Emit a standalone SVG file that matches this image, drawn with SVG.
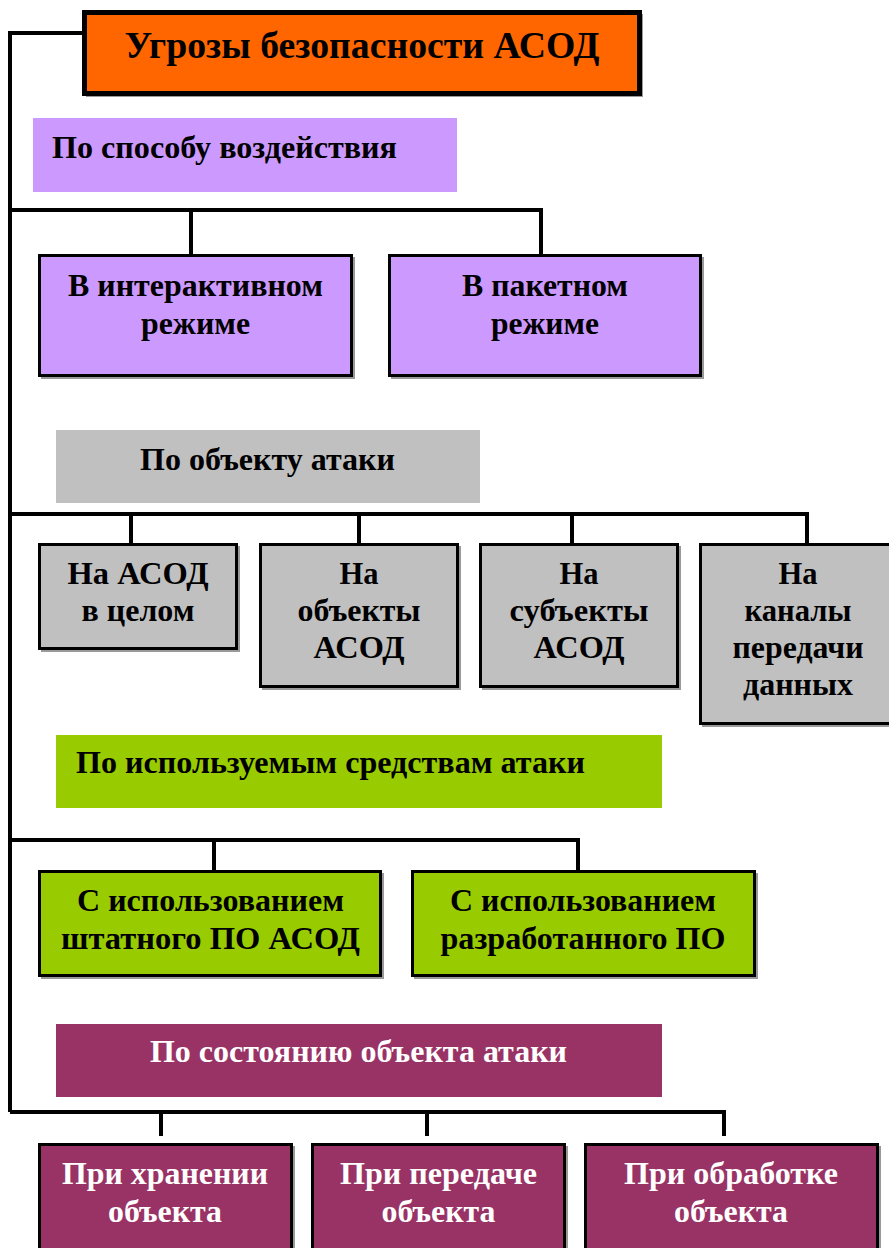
<svg xmlns="http://www.w3.org/2000/svg" width="889" height="1248" viewBox="0 0 889 1248">
<style>
text{font-family:"Liberation Serif","Times New Roman",serif;font-weight:bold;font-size:31px;fill:#000}
.t{font-size:37px}
.w{fill:#fff}
.box{stroke:#000;stroke-width:3}
.shadow{fill:#999}
.conn{stroke:#000;stroke-width:4;fill:none}
.pu{fill:#CC99FF}.gr{fill:#C0C0C0}.gn{fill:#99CC00}.mr{fill:#993366}
</style>
<rect width="889" height="1248" fill="#fff"/>
<g id="connectors">
<path class="conn" d="M84 33H10V1112"/>
<path class="conn" d="M10 210H541V254M191 210V254"/>
<path class="conn" d="M10 514H807V543M131 514V543M359 514V543M572 514V543"/>
<path class="conn" d="M10 840H578V870M214 840V870"/>
<path class="conn" d="M10 1112H724V1136M161 1112V1136M427 1112V1136"/>
</g>
<g id="title">
<rect x="86" y="14" width="557" height="83" class="shadow"/>
<rect x="84.5" y="12.5" width="555" height="81" fill="#FF6600" stroke="#000" stroke-width="5"/>
<text class="t" x="362" y="58" text-anchor="middle" textLength="475" lengthAdjust="spacingAndGlyphs">Угрозы безопасности АСОД</text>
</g>
<g id="cat1">
<rect x="33" y="118" width="424" height="74" class="pu"/>
<text x="52" y="158" textLength="345" lengthAdjust="spacingAndGlyphs">По способу воздействия</text>
</g>
<g id="n1a">
<rect x="41" y="257" width="314" height="122" class="shadow"/>
<rect x="39.5" y="255.5" width="312" height="120" class="pu box"/>
<text x="195.5" y="296" text-anchor="middle" textLength="255" lengthAdjust="spacingAndGlyphs">В интерактивном</text>
<text x="195.5" y="334" text-anchor="middle" textLength="109" lengthAdjust="spacingAndGlyphs">режиме</text>
</g>
<g id="n1b">
<rect x="391" y="257" width="313" height="122" class="shadow"/>
<rect x="389.5" y="255.5" width="311" height="120" class="pu box"/>
<text x="545" y="296" text-anchor="middle" textLength="166" lengthAdjust="spacingAndGlyphs">В пакетном</text>
<text x="545" y="334" text-anchor="middle" textLength="108" lengthAdjust="spacingAndGlyphs">режиме</text>
</g>
<g id="cat2">
<rect x="56" y="430" width="424" height="73" class="gr"/>
<text x="267.5" y="470" text-anchor="middle" textLength="255" lengthAdjust="spacingAndGlyphs">По объекту атаки</text>
</g>
<g id="n2a">
<rect x="41" y="546" width="199" height="106" class="shadow"/>
<rect x="39.5" y="544.5" width="197" height="104" class="gr box"/>
<text x="138" y="584" text-anchor="middle" textLength="141" lengthAdjust="spacingAndGlyphs">На АСОД</text>
<text x="138" y="621" text-anchor="middle" textLength="113" lengthAdjust="spacingAndGlyphs">в целом</text>
</g>
<g id="n2b">
<rect x="262" y="546" width="199" height="144" class="shadow"/>
<rect x="260.5" y="544.5" width="197" height="142" class="gr box"/>
<text x="359" y="584" text-anchor="middle" textLength="39" lengthAdjust="spacingAndGlyphs">На</text>
<text x="359" y="621" text-anchor="middle" textLength="123" lengthAdjust="spacingAndGlyphs">объекты</text>
<text x="359" y="658" text-anchor="middle" textLength="91" lengthAdjust="spacingAndGlyphs">АСОД</text>
</g>
<g id="n2c">
<rect x="482" y="546" width="199" height="144" class="shadow"/>
<rect x="480.5" y="544.5" width="197" height="142" class="gr box"/>
<text x="579" y="584" text-anchor="middle" textLength="39" lengthAdjust="spacingAndGlyphs">На</text>
<text x="579" y="621" text-anchor="middle" textLength="139" lengthAdjust="spacingAndGlyphs">субъекты</text>
<text x="579" y="658" text-anchor="middle" textLength="91" lengthAdjust="spacingAndGlyphs">АСОД</text>
</g>
<g id="n2d">
<rect x="702" y="546" width="199" height="181" class="shadow"/>
<rect x="700.5" y="544.5" width="197" height="179" class="gr box"/>
<text x="798" y="584" text-anchor="middle" textLength="39" lengthAdjust="spacingAndGlyphs">На</text>
<text x="798" y="621" text-anchor="middle" textLength="107" lengthAdjust="spacingAndGlyphs">каналы</text>
<text x="798" y="658" text-anchor="middle" textLength="131" lengthAdjust="spacingAndGlyphs">передачи</text>
<text x="798" y="695" text-anchor="middle" textLength="110" lengthAdjust="spacingAndGlyphs">данных</text>
</g>
<g id="cat3">
<rect x="56" y="735" width="606" height="73" class="gn"/>
<text x="76" y="773" textLength="509" lengthAdjust="spacingAndGlyphs">По используемым средствам атаки</text>
</g>
<g id="n3a">
<rect x="41" y="873" width="343" height="106" class="shadow"/>
<rect x="39.5" y="871.5" width="341" height="104" class="gn box"/>
<text x="210.5" y="911" text-anchor="middle" textLength="267" lengthAdjust="spacingAndGlyphs">С использованием</text>
<text x="210.5" y="949" text-anchor="middle" textLength="299" lengthAdjust="spacingAndGlyphs">штатного ПО АСОД</text>
</g>
<g id="n3b">
<rect x="414" y="873" width="344" height="106" class="shadow"/>
<rect x="412.5" y="871.5" width="342" height="104" class="gn box"/>
<text x="583" y="911" text-anchor="middle" textLength="266" lengthAdjust="spacingAndGlyphs">С использованием</text>
<text x="583" y="949" text-anchor="middle" textLength="285" lengthAdjust="spacingAndGlyphs">разработанного ПО</text>
</g>
<g id="cat4">
<rect x="56" y="1024" width="606" height="73" class="mr"/>
<text class="w" x="358.5" y="1062" text-anchor="middle" textLength="417" lengthAdjust="spacingAndGlyphs">По состоянию объекта атаки</text>
</g>
<g id="n4a">
<rect x="41" y="1146" width="254" height="120" class="shadow"/>
<rect x="39.5" y="1144.5" width="252" height="120" class="mr box"/>
<text class="w" x="165" y="1184" text-anchor="middle" textLength="206" lengthAdjust="spacingAndGlyphs">При хранении</text>
<text class="w" x="165" y="1222" text-anchor="middle" textLength="114" lengthAdjust="spacingAndGlyphs">объекта</text>
</g>
<g id="n4b">
<rect x="314" y="1146" width="254" height="120" class="shadow"/>
<rect x="312.5" y="1144.5" width="252" height="120" class="mr box"/>
<text class="w" x="438.5" y="1184" text-anchor="middle" textLength="197" lengthAdjust="spacingAndGlyphs">При передаче</text>
<text class="w" x="438.5" y="1222" text-anchor="middle" textLength="114" lengthAdjust="spacingAndGlyphs">объекта</text>
</g>
<g id="n4c">
<rect x="587" y="1146" width="294" height="120" class="shadow"/>
<rect x="585.5" y="1144.5" width="292" height="120" class="mr box"/>
<text class="w" x="731" y="1184" text-anchor="middle" textLength="214" lengthAdjust="spacingAndGlyphs">При обработке</text>
<text class="w" x="731" y="1222" text-anchor="middle" textLength="114" lengthAdjust="spacingAndGlyphs">объекта</text>
</g>
</svg>
